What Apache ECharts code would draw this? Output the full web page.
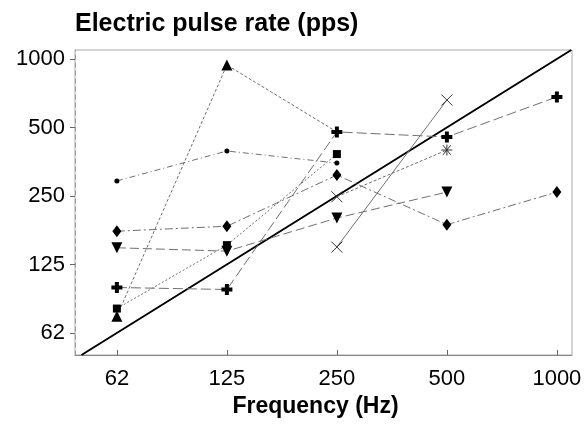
<!DOCTYPE html>
<html>
<head>
<meta charset="utf-8">
<script src="https://cdn.jsdelivr.net/npm/echarts@6/dist/echarts.min.js"></script>
<style>
html,body{margin:0;padding:0;background:#fff;}
#chart{width:585px;height:428px;}
</style>
</head>
<body>
<div id="chart"></div>
<script>
// Frequencies (Hz) and tick values
const frequencies = [62.5, 125, 250, 500, 1000];
const tickValues = [62.5, 125, 250, 500, 1000];
const tickLabels = ['62', '125', '250', '500', '1000'];

// Electric pulse rate (pps) per frequency; null = no point
const triangleUp   = [74, 941, 478, null, null];
const dotSeries    = [291, 394, 349, null, null];
const diamond      = [175, 184, 309, 187, 260];
const triangleDown = [148, 143, 200, 260, null];
const square       = [80, 152, 382, null, null];
const plus         = [99, 97, 478, 454, 681];
const cross        = [null, null, 149, 660, null];
const asterisk     = [null, null, 248, 398, null];

// Identity line (rate = frequency)
const identity = [50, 1095];

const FONT = '"Liberation Sans", Arial, Helvetica, sans-serif';

function pairs(arr) {
  const out = [];
  arr.forEach((v, i) => { if (v !== null) out.push([frequencies[i], v]); });
  return out;
}

const plusPath = 'path://M3.2,0 H6.8 V3.2 H10 V6.8 H6.8 V10 H3.2 V6.8 H0 V3.2 H3.2 Z';
const xPath = 'path://M0,0 L10,10 M10,0 L0,10';
const starPath = 'path://M0,5 L10,5 M1.5,1.5 L8.5,8.5 M8.5,1.5 L1.5,8.5 M5,1 L5,9';

function mk(name, data, symbol, size, lineType, extra) {
  return Object.assign({
    name: name,
    type: 'line',
    data: pairs(data),
    symbol: symbol,
    symbolSize: size,
    showAllSymbol: true,
    z: 3,
    lineStyle: { color: '#707070', width: 1, type: lineType },
    itemStyle: { color: '#000' },
    emphasis: { disabled: true },
    animation: false
  }, extra || {});
}

const chart = echarts.init(document.getElementById('chart'), null, { renderer: 'canvas' });

chart.setOption({
  backgroundColor: '#fff',
  animation: false,
  title: {
    text: 'Electric pulse rate (pps)',
    left: 70,
    top: 7,
    textStyle: { fontFamily: FONT, fontSize: 25, fontWeight: 'bold', color: '#000' }
  },
  grid: {
    left: 75, right: 13, top: 50, bottom: 73,
    show: true, borderColor: '#aaa', borderWidth: 1
  },
  xAxis: {
    type: 'log',
    logBase: 2,
    min: 48,
    max: 1100,
    name: 'Frequency (Hz)',
    nameLocation: 'middle',
    nameGap: 32,
    nameTextStyle: { fontFamily: FONT, fontSize: 23, fontWeight: 'bold', color: '#000', padding: [0, 16, 0, 0] },
    axisLine: { show: true, lineStyle: { color: '#888', width: 1 } },
    axisTick: { show: true, inside: true, length: 5, lineStyle: { color: '#666' }, customValues: tickValues },
    axisLabel: {
      fontFamily: FONT, fontSize: 22, color: '#000', margin: 13,
      customValues: tickValues,
      formatter: (v) => tickLabels[tickValues.indexOf(v)] || String(Math.floor(v))
    },
    splitLine: { show: false },
    minorTick: { show: false }
  },
  yAxis: {
    type: 'log',
    logBase: 2,
    min: 50,
    max: 1095,
    axisLine: { show: true, lineStyle: { color: '#999', width: 1, type: [4, 4] } },
    axisTick: { show: true, inside: false, length: 5, lineStyle: { color: '#666' }, customValues: tickValues },
    axisLabel: {
      fontFamily: FONT, fontSize: 22, color: '#000', margin: 10,
      customValues: tickValues,
      formatter: (v) => tickLabels[tickValues.indexOf(v)] || String(Math.floor(v))
    },
    splitLine: { show: false },
    minorTick: { show: false }
  },
  series: [
    {
      name: 'identity', type: 'line',
      data: identity.map(v => [v, v]),
      symbol: 'none', z: 2,
      lineStyle: { color: '#000', width: 2 },
      emphasis: { disabled: true }, animation: false
    },
    mk('triangleUp', triangleUp, (val, p) => (p && p.dataIndex === 2 ? 'none' : 'triangle'), 11, [3, 2]),
    mk('dot', dotSeries, 'circle', 5, [6, 3, 1, 3]),
    mk('diamond', diamond, 'diamond', [9, 12], [8, 3, 2, 3]),
    mk('triangleDown', triangleDown, 'triangle', 11, [9, 4], { symbolRotate: 180 }),
    mk('square', square, 'rect', 8, [2, 2]),
    mk('plus', plus, plusPath, 11, [10, 4]),
    mk('cross', cross, xPath, 11, 'solid', {
      itemStyle: { color: 'none', borderColor: '#333', borderWidth: 1 }
    }),
    mk('asterisk', asterisk, (val, p) => (p && p.dataIndex === 0 ? xPath : starPath), 11, [3, 2], {
      itemStyle: { color: 'none', borderColor: '#333', borderWidth: 1 }
    })
  ]
});
</script>
</body>
</html>
